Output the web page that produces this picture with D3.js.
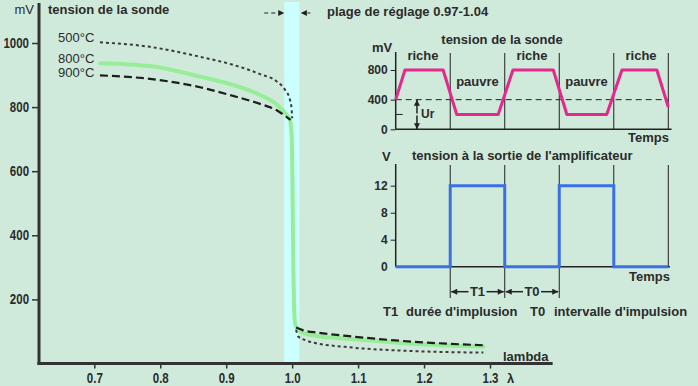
<!DOCTYPE html>
<html>
<head>
<meta charset="utf-8">
<script src="https://cdn.jsdelivr.net/npm/d3@7"></script>
<style>
body { margin: 0; background: #cfeadb; }
svg { display: block; }
text { font-family: "Liberation Sans", Arial, sans-serif; font-weight: bold; font-size: 13px; fill: #2b2b2b; }
text.num { font-size: 14px; }
text.small { font-size: 12px; }
</style>
</head>
<body>
<div id="chart"></div>
<script>
// main chart : sonde voltage vs lambda
var lambdaTicks = [0.7, 0.8, 0.9, 1.0, 1.1, 1.2, 1.3];
var lambdaLabels = ["0.7", "0.8", "0.9", "1.0", "1.1", "1.2", "1.3"];
var mvTicks = [200, 400, 600, 800, 1000];
var mvLabels = ["200", "400", "600", "800", "1000"];
var bandLambda = [0.988, 1.011];

var lambda500Up = [0.7086, 0.7845, 0.8603, 0.9103, 0.9513, 0.9766, 0.9892, 0.9967, 0.9993, 1.0];
var mv500Up = [1002, 988, 957, 932, 903, 880, 854, 823, 791, 765];
var lambda500Down = [1.006, 1.009, 1.02, 1.032, 1.08, 1.18, 1.29];
var mv500Down = [105, 85, 73, 65, 52, 39, 34];

var lambda800 = [0.7086, 0.7845, 0.8603, 0.9103, 0.9513, 0.9766, 0.9892, 0.9967, 0.9995, 1.0008, 1.0018, 1.003, 1.0045, 1.008, 1.015, 1.04, 1.08, 1.18, 1.29];
var mv800 = [937, 928, 895, 869, 838, 808, 782, 760, 700, 500, 300, 170, 125, 108, 97, 85, 78, 62, 53];

var lambda900Up = [0.7086, 0.7845, 0.8603, 0.9103, 0.9513, 0.9766, 0.9892, 0.9975];
var mv900Up = [899, 888, 862, 835, 810, 790, 773, 760];
var lambda900Down = [1.006, 1.016, 1.04, 1.083, 1.183, 1.289];
var mv900Down = [112, 104, 96, 86, 68, 57];

var tempLabels = ["500°C", "800°C", "900°C"];

// insets : sonde voltage and amplifier output vs time
var timeDivs = [1, 2, 3, 4, 5];
var pinkT = [0, 0.17, 0.87, 1.12, 1.88, 2.15, 2.89, 3.14, 3.87, 4.15, 4.79, 5.0];
var pinkMv = [400, 800, 800, 200, 200, 800, 800, 200, 200, 800, 800, 300];
var probeTicks = [0, 400, 800];
var probeLabels = ["0", "400", "800"];
var refMv = 400;
var richeT = [0.5, 2.5, 4.5];
var pauvreT = [1.5, 3.5];

var ampT = [0, 1, 2, 3, 4, 5];
var ampV = [0, 12, 0, 12, 0, 0];
var ampTicks = [0, 4, 8, 12];
var ampLabels = ["0", "4", "8", "12"];

function zip(a, b) {
    return a.map(function (v, i) { return [v, b[i]]; });
}

// squeeze tick numbers, the original uses a narrow font
function narrow(sel) {
    sel.each(function () {
        var w = this.getComputedTextLength();
        d3.select(this)
            .attr("textLength", w * 0.82)
            .attr("lengthAdjust", "spacingAndGlyphs");
    });
}

var width = 698, height = 386;
var svg = d3.select("#chart").append("svg")
    .attr("width", width)
    .attr("height", height);

var defs = svg.append("defs");
defs.append("marker")
    .attr("id", "arrow")
    .attr("viewBox", "0 0 10 10")
    .attr("refX", 10).attr("refY", 5)
    .attr("markerWidth", 8).attr("markerHeight", 6)
    .attr("markerUnits", "userSpaceOnUse")
    .attr("orient", "auto-start-reverse")
    .append("path")
    .attr("d", "M0,0 L10,5 L0,10 z")
    .attr("fill", "#222");

var x = d3.scaleLinear().domain([0.7, 1.3]).range([94.3, 490]);
var y = d3.scaleLinear().domain([0, 1000]).range([363.5, 43]);

// plage de reglage band
svg.append("rect")
    .attr("x", x(bandLambda[0]))
    .attr("y", 2)
    .attr("width", x(bandLambda[1]) - x(bandLambda[0]))
    .attr("height", y(0) - 2)
    .attr("fill", "#ccffff");

var line = d3.line()
    .x(function (d) { return x(d[0]); })
    .y(function (d) { return y(d[1]); })
    .curve(d3.curveMonotoneX);

svg.append("path")
    .attr("d", line(zip(lambda800, mv800)))
    .attr("fill", "none")
    .attr("stroke", "#98ee98")
    .attr("stroke-width", 4)
    .attr("stroke-linecap", "round");

[[lambda500Up, mv500Up], [lambda500Down, mv500Down]].forEach(function (s) {
    svg.append("path")
        .attr("d", line(zip(s[0], s[1])))
        .attr("fill", "none")
        .attr("stroke", "#3a3a3a")
        .attr("stroke-width", 2)
        .attr("stroke-dasharray", "3,3");
});

[[lambda900Up, mv900Up], [lambda900Down, mv900Down]].forEach(function (s) {
    svg.append("path")
        .attr("d", line(zip(s[0], s[1])))
        .attr("fill", "none")
        .attr("stroke", "#1e1e1e")
        .attr("stroke-width", 2.2)
        .attr("stroke-dasharray", "8,4");
});

// axes
var yAxis = svg.append("g")
    .attr("transform", "translate(39,0)")
    .style("color", "#333")
    .call(d3.axisLeft(y).tickValues(mvTicks)
        .tickFormat(function (d, i) { return mvLabels[i]; })
        .tickSize(7).tickPadding(3));
yAxis.select(".domain").remove();
yAxis.selectAll("line").attr("stroke-width", 1.5);
yAxis.selectAll("text").attr("class", "num").call(narrow);

var xAxis = svg.append("g")
    .attr("transform", "translate(0," + y(0) + ")")
    .style("color", "#333")
    .call(d3.axisBottom(x).tickValues(lambdaTicks)
        .tickFormat(function (d, i) { return lambdaLabels[i]; })
        .tickSize(5).tickPadding(5));
xAxis.select(".domain").remove();
xAxis.selectAll("line").attr("stroke-width", 1.5);
xAxis.selectAll("text").attr("class", "num").call(narrow);

svg.append("line")
    .attr("x1", 39).attr("x2", 39)
    .attr("y1", 3).attr("y2", y(0) + 1.5)
    .attr("stroke", "#333").attr("stroke-width", 3);
svg.append("line")
    .attr("x1", 37.5).attr("x2", x(1.395))
    .attr("y1", y(0)).attr("y2", y(0))
    .attr("stroke", "#333").attr("stroke-width", 3);

svg.append("text").attr("x", 34).attr("y", 14).attr("text-anchor", "end")
    .style("font-weight", "normal").text("mV");
svg.append("text").attr("x", 48).attr("y", 14).text("tension de la sonde");
svg.append("text").attr("x", 503).attr("y", 361).text("lambda");
svg.append("text").attr("x", 507).attr("y", 383).text("λ");

var tempY = [42, 63, 77];
tempLabels.forEach(function (t, i) {
    svg.append("text").attr("x", 58).attr("y", tempY[i]).style("font-weight", "normal").text(t);
});

// arrows to the band
svg.append("line")
    .attr("x1", x(bandLambda[0]) - 20).attr("x2", x(bandLambda[0]))
    .attr("y1", 13).attr("y2", 13)
    .attr("stroke", "#222").attr("stroke-width", 1)
    .attr("stroke-dasharray", "4,3")
    .attr("marker-end", "url(#arrow)");
svg.append("line")
    .attr("x1", x(bandLambda[1]) + 11).attr("x2", x(bandLambda[1]) + 1.5)
    .attr("y1", 13).attr("y2", 13)
    .attr("stroke", "#222").attr("stroke-width", 1)
    .attr("stroke-dasharray", "3,2")
    .attr("marker-end", "url(#arrow)");
svg.append("text").attr("x", 327).attr("y", 16).text("plage de réglage 0.97-1.04");

// inset 1 : tension de la sonde
var tx = d3.scaleLinear().domain([0, 5]).range([395.7, 668.3]);
var py = d3.scaleLinear().domain([0, 800]).range([129.3, 70]);

timeDivs.forEach(function (t) {
    svg.append("line")
        .attr("x1", tx(t)).attr("x2", tx(t))
        .attr("y1", 53).attr("y2", py(0))
        .attr("stroke", "#222").attr("stroke-width", 1);
});
svg.append("line")
    .attr("x1", tx(0)).attr("x2", tx(0))
    .attr("y1", 52).attr("y2", py(0))
    .attr("stroke", "#222").attr("stroke-width", 1.5);
svg.append("line")
    .attr("x1", tx(0)).attr("x2", tx(5.06))
    .attr("y1", py(0)).attr("y2", py(0))
    .attr("stroke", "#222").attr("stroke-width", 1.5);
svg.append("line")
    .attr("x1", tx(0)).attr("x2", tx(5))
    .attr("y1", py(refMv)).attr("y2", py(refMv))
    .attr("stroke", "#222").attr("stroke-width", 1)
    .attr("stroke-dasharray", "6,4");

var pAxis = svg.append("g")
    .attr("transform", "translate(" + tx(0) + ",0)")
    .style("color", "#222")
    .call(d3.axisLeft(py).tickValues(probeTicks)
        .tickFormat(function (d, i) { return probeLabels[i]; })
        .tickSize(5).tickPadding(3));
pAxis.select(".domain").remove();
pAxis.selectAll("text").attr("class", "small");
svg.append("line")
    .attr("x1", tx(0)).attr("x2", tx(0) + 7)
    .attr("y1", py(200)).attr("y2", py(200))
    .attr("stroke", "#222").attr("stroke-width", 1);

svg.append("path")
    .attr("d", d3.line()
        .x(function (d) { return tx(d[0]); })
        .y(function (d) { return py(d[1]); })(zip(pinkT, pinkMv)))
    .attr("fill", "none")
    .attr("stroke", "#e4288c")
    .attr("stroke-width", 3)
    .attr("stroke-linejoin", "round");

// Ur arrow
svg.append("line")
    .attr("x1", tx(0.39)).attr("x2", tx(0.39))
    .attr("y1", py(200) - 1).attr("y2", py(refMv))
    .attr("stroke", "#222").attr("stroke-width", 1.5)
    .attr("marker-end", "url(#arrow)");
svg.append("line")
    .attr("x1", tx(0.39)).attr("x2", tx(0.39))
    .attr("y1", py(200) + 1).attr("y2", py(0))
    .attr("stroke", "#222").attr("stroke-width", 1.5)
    .attr("marker-end", "url(#arrow)");
svg.append("text").attr("x", 421).attr("y", 118).attr("class", "small").text("Ur");

svg.append("text").attr("x", 502).attr("y", 44).attr("text-anchor", "middle").text("tension de la sonde");
svg.append("text").attr("x", 372).attr("y", 52).text("mV");
richeT.forEach(function (t) {
    svg.append("text").attr("x", tx(t)).attr("y", 60).attr("text-anchor", "middle").text("riche");
});
pauvreT.forEach(function (t) {
    svg.append("text").attr("x", tx(t)).attr("y", 86).attr("text-anchor", "middle").text("pauvre");
});
svg.append("text").attr("x", 669).attr("y", 142).attr("text-anchor", "end").text("Temps");

// inset 2 : tension a la sortie de l'amplificateur
var ay = d3.scaleLinear().domain([0, 12]).range([266.7, 185.7]);

timeDivs.forEach(function (t) {
    svg.append("line")
        .attr("x1", tx(t)).attr("x2", tx(t))
        .attr("y1", 165).attr("y2", t <= 3 ? 298 : ay(0))
        .attr("stroke", "#222").attr("stroke-width", 1);
});
svg.append("line")
    .attr("x1", tx(0)).attr("x2", tx(0))
    .attr("y1", 164).attr("y2", ay(0))
    .attr("stroke", "#222").attr("stroke-width", 1.5);
svg.append("line")
    .attr("x1", tx(0)).attr("x2", tx(5.03))
    .attr("y1", ay(0)).attr("y2", ay(0))
    .attr("stroke", "#222").attr("stroke-width", 1.5);

var aAxis = svg.append("g")
    .attr("transform", "translate(" + tx(0) + ",0)")
    .style("color", "#222")
    .call(d3.axisLeft(ay).tickValues(ampTicks)
        .tickFormat(function (d, i) { return ampLabels[i]; })
        .tickSize(5).tickPadding(3));
aAxis.select(".domain").remove();
aAxis.selectAll("text").attr("class", "small");
aAxis.selectAll(".tick").filter(function (d) { return d === 0; }).select("line").remove();

svg.append("path")
    .attr("d", d3.line()
        .x(function (d) { return tx(d[0]); })
        .y(function (d) { return ay(d[1]); })
        .curve(d3.curveStepAfter)(zip(ampT, ampV)))
    .attr("fill", "none")
    .attr("stroke", "#3b6fe6")
    .attr("stroke-width", 3);

svg.append("text").attr("x", 382).attr("y", 161).text("V");
svg.append("text").attr("x", 412).attr("y", 160).text("tension à la sortie de l'amplificateur");
svg.append("text").attr("x", 670).attr("y", 281).attr("text-anchor", "end").text("Temps");

// T1 / T0 arrows
[["T1", 1, 2], ["T0", 2, 3]].forEach(function (a) {
    var x1 = tx(a[1]), x2 = tx(a[2]), mid = (x1 + x2) / 2;
    svg.append("line")
        .attr("x1", mid - 9).attr("x2", x1 + 1)
        .attr("y1", 291.7).attr("y2", 291.7)
        .attr("stroke", "#222").attr("stroke-width", 1.5)
        .attr("marker-end", "url(#arrow)");
    svg.append("line")
        .attr("x1", mid + 9).attr("x2", x2 - 1)
        .attr("y1", 291.7).attr("y2", 291.7)
        .attr("stroke", "#222").attr("stroke-width", 1.5)
        .attr("marker-end", "url(#arrow)");
    svg.append("text").attr("x", mid).attr("y", 296).attr("text-anchor", "middle").text(a[0]);
});

svg.append("text").attr("x", 383).attr("y", 316).text("T1");
svg.append("text").attr("x", 406).attr("y", 316).text("durée d'implusion");
svg.append("text").attr("x", 530).attr("y", 316).text("T0");
svg.append("text").attr("x", 554).attr("y", 316).text("intervalle d'impulsion");
</script>
</body>
</html>
